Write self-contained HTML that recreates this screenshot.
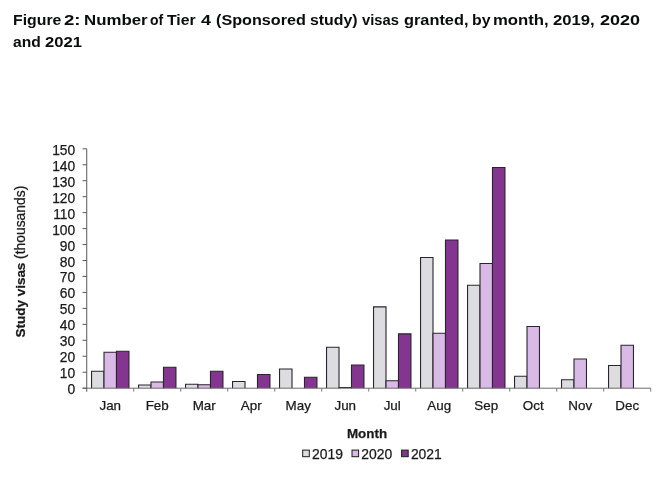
<!DOCTYPE html>
<html><head><meta charset="utf-8"><title>Figure 2</title>
<style>
html,body{margin:0;padding:0;background:#fff;}
body{width:656px;height:485px;position:relative;overflow:hidden;font-family:"Liberation Sans",sans-serif;}
.title{position:absolute;left:0;top:0;width:656px;height:60px;will-change:transform;}
.title span{position:absolute;font-weight:bold;font-size:15.4px;line-height:18px;color:#0b0c0c;white-space:nowrap;transform-origin:0 0;}
</style></head><body>
<div class="title"><span style="left:12.51px;top:11.0px;transform:scaleX(1.0283)">Figure</span> <span style="left:64.4px;top:11.0px;transform:scaleX(1.2082)">2:</span> <span style="left:83.65px;top:11.0px;transform:scaleX(1.0929)">Number</span> <span style="left:150.4px;top:11.0px;transform:scaleX(0.9090)">of</span> <span style="left:167.0px;top:11.0px;transform:scaleX(1.0271)">Tier</span> <span style="left:201.0px;top:11.0px;transform:scaleX(1.1659)">4</span> <span style="left:216.2px;top:11.0px;transform:scaleX(1.0506)">(Sponsored</span> <span style="left:310.0px;top:11.0px;transform:scaleX(1.0309)">study)</span> <span style="left:362.0px;top:11.0px;transform:scaleX(0.9577)">visas</span> <span style="left:403.6px;top:11.0px;transform:scaleX(1.0610)">granted,</span> <span style="left:471.61px;top:11.0px;transform:scaleX(1.0288)">by</span> <span style="left:492.86px;top:11.0px;transform:scaleX(1.0855)">month,</span> <span style="left:553.0px;top:11.0px;transform:scaleX(1.0837)">2019,</span> <span style="left:599.7px;top:11.0px;transform:scaleX(1.1701)">2020</span> <span style="left:13.0px;top:33.1px;transform:scaleX(1.0137)">and</span> <span style="left:45.0px;top:33.1px;transform:scaleX(1.0770)">2021</span> </div>
<svg width="656" height="485" viewBox="0 0 656 485" style="position:absolute;left:0;top:0;will-change:transform">
<g stroke="#29242d" stroke-width="1.1">
<path d="M91.54 388.20V371.25H104.01V388.20" fill="#dddde1"/>
<path d="M104.01 388.20V352.25H116.48V388.20" fill="#d9b9e5"/>
<path d="M116.48 388.20V351.25H128.95V388.20" fill="#83358f"/>
<path d="M138.54 388.20V385.00H151.01V388.20" fill="#dddde1"/>
<path d="M151.01 388.20V382.00H163.48V388.20" fill="#d9b9e5"/>
<path d="M163.48 388.20V367.25H175.95V388.20" fill="#83358f"/>
<path d="M185.54 388.20V384.25H198.01V388.20" fill="#dddde1"/>
<path d="M198.01 388.20V384.75H210.48V388.20" fill="#d9b9e5"/>
<path d="M210.48 388.20V371.25H222.95V388.20" fill="#83358f"/>
<path d="M232.54 388.20V381.50H245.01V388.20" fill="#dddde1"/>
<path d="M257.48 388.20V374.50H269.95V388.20" fill="#83358f"/>
<path d="M279.54 388.20V369.00H292.01V388.20" fill="#dddde1"/>
<path d="M304.48 388.20V377.25H316.95V388.20" fill="#83358f"/>
<path d="M326.54 388.20V347.25H339.01V388.20" fill="#dddde1"/>
<path d="M339.01 388.20V387.50H351.48V388.20" fill="#d9b9e5"/>
<path d="M351.48 388.20V365.00H363.95V388.20" fill="#83358f"/>
<path d="M373.54 388.20V306.90H386.01V388.20" fill="#dddde1"/>
<path d="M386.01 388.20V380.80H398.48V388.20" fill="#d9b9e5"/>
<path d="M398.48 388.20V333.90H410.95V388.20" fill="#83358f"/>
<path d="M420.54 388.20V257.50H433.01V388.20" fill="#dddde1"/>
<path d="M433.01 388.20V333.20H445.48V388.20" fill="#d9b9e5"/>
<path d="M445.48 388.20V240.00H457.95V388.20" fill="#83358f"/>
<path d="M467.54 388.20V285.20H480.01V388.20" fill="#dddde1"/>
<path d="M480.01 388.20V263.50H492.48V388.20" fill="#d9b9e5"/>
<path d="M492.48 388.20V167.50H504.95V388.20" fill="#83358f"/>
<path d="M514.54 388.20V376.25H527.01V388.20" fill="#dddde1"/>
<path d="M527.01 388.20V326.50H539.48V388.20" fill="#d9b9e5"/>
<path d="M561.54 388.20V379.70H574.01V388.20" fill="#dddde1"/>
<path d="M574.01 388.20V359.00H586.48V388.20" fill="#d9b9e5"/>
<path d="M608.54 388.20V365.50H621.01V388.20" fill="#dddde1"/>
<path d="M621.01 388.20V345.25H633.48V388.20" fill="#d9b9e5"/>
</g>
<g stroke="#5a5a5a" stroke-width="1" fill="none">
<line x1="86.74" y1="148.79999999999998" x2="86.74" y2="391.8"/>
<line x1="82.53999999999999" y1="388.2" x2="650.74" y2="388.2" stroke="#6c6c6c"/>
<line x1="82.53999999999999" y1="388.2" x2="86.74" y2="388.2"/>
<line x1="82.53999999999999" y1="372.24" x2="86.74" y2="372.24"/>
<line x1="82.53999999999999" y1="356.28" x2="86.74" y2="356.28"/>
<line x1="82.53999999999999" y1="340.32" x2="86.74" y2="340.32"/>
<line x1="82.53999999999999" y1="324.36" x2="86.74" y2="324.36"/>
<line x1="82.53999999999999" y1="308.4" x2="86.74" y2="308.4"/>
<line x1="82.53999999999999" y1="292.44" x2="86.74" y2="292.44"/>
<line x1="82.53999999999999" y1="276.48" x2="86.74" y2="276.48"/>
<line x1="82.53999999999999" y1="260.52" x2="86.74" y2="260.52"/>
<line x1="82.53999999999999" y1="244.55999999999997" x2="86.74" y2="244.55999999999997"/>
<line x1="82.53999999999999" y1="228.59999999999997" x2="86.74" y2="228.59999999999997"/>
<line x1="82.53999999999999" y1="212.64" x2="86.74" y2="212.64"/>
<line x1="82.53999999999999" y1="196.67999999999998" x2="86.74" y2="196.67999999999998"/>
<line x1="82.53999999999999" y1="180.71999999999997" x2="86.74" y2="180.71999999999997"/>
<line x1="82.53999999999999" y1="164.76" x2="86.74" y2="164.76"/>
<line x1="82.53999999999999" y1="148.79999999999998" x2="86.74" y2="148.79999999999998"/>
<line x1="133.74" y1="388.2" x2="133.74" y2="391.59999999999997" stroke="#777"/>
<line x1="180.74" y1="388.2" x2="180.74" y2="391.59999999999997" stroke="#777"/>
<line x1="227.74" y1="388.2" x2="227.74" y2="391.59999999999997" stroke="#777"/>
<line x1="274.74" y1="388.2" x2="274.74" y2="391.59999999999997" stroke="#777"/>
<line x1="321.74" y1="388.2" x2="321.74" y2="391.59999999999997" stroke="#777"/>
<line x1="368.74" y1="388.2" x2="368.74" y2="391.59999999999997" stroke="#777"/>
<line x1="415.74" y1="388.2" x2="415.74" y2="391.59999999999997" stroke="#777"/>
<line x1="462.74" y1="388.2" x2="462.74" y2="391.59999999999997" stroke="#777"/>
<line x1="509.74" y1="388.2" x2="509.74" y2="391.59999999999997" stroke="#777"/>
<line x1="556.74" y1="388.2" x2="556.74" y2="391.59999999999997" stroke="#777"/>
<line x1="603.74" y1="388.2" x2="603.74" y2="391.59999999999997" stroke="#777"/>
<line x1="650.74" y1="388.2" x2="650.74" y2="391.59999999999997" stroke="#777"/>
</g>
<g font-family="Liberation Sans, sans-serif" font-size="13.4" fill="#1a1a1a" stroke="#1a1a1a" stroke-width="0.25">
<text x="75.2" y="394.20" text-anchor="end" font-size="13.8">0</text>
<text x="75.2" y="378.24" text-anchor="end" font-size="13.8">10</text>
<text x="75.2" y="362.28" text-anchor="end" font-size="13.8">20</text>
<text x="75.2" y="346.32" text-anchor="end" font-size="13.8">30</text>
<text x="75.2" y="330.36" text-anchor="end" font-size="13.8">40</text>
<text x="75.2" y="314.40" text-anchor="end" font-size="13.8">50</text>
<text x="75.2" y="298.44" text-anchor="end" font-size="13.8">60</text>
<text x="75.2" y="282.48" text-anchor="end" font-size="13.8">70</text>
<text x="75.2" y="266.52" text-anchor="end" font-size="13.8">80</text>
<text x="75.2" y="250.56" text-anchor="end" font-size="13.8">90</text>
<text x="75.2" y="234.60" text-anchor="end" font-size="13.8">100</text>
<text x="75.2" y="218.64" text-anchor="end" font-size="13.8">110</text>
<text x="75.2" y="202.68" text-anchor="end" font-size="13.8">120</text>
<text x="75.2" y="186.72" text-anchor="end" font-size="13.8">130</text>
<text x="75.2" y="170.76" text-anchor="end" font-size="13.8">140</text>
<text x="75.2" y="154.80" text-anchor="end" font-size="13.8">150</text>
<text x="110.24" y="410.3" text-anchor="middle">Jan</text>
<text x="157.24" y="410.3" text-anchor="middle">Feb</text>
<text x="204.24" y="410.3" text-anchor="middle">Mar</text>
<text x="251.24" y="410.3" text-anchor="middle">Apr</text>
<text x="298.24" y="410.3" text-anchor="middle">May</text>
<text x="345.24" y="410.3" text-anchor="middle">Jun</text>
<text x="392.24" y="410.3" text-anchor="middle">Jul</text>
<text x="439.24" y="410.3" text-anchor="middle">Aug</text>
<text x="486.24" y="410.3" text-anchor="middle">Sep</text>
<text x="533.24" y="410.3" text-anchor="middle">Oct</text>
<text x="580.24" y="410.3" text-anchor="middle">Nov</text>
<text x="627.24" y="410.3" text-anchor="middle">Dec</text>
<text x="367" y="438" text-anchor="middle" font-weight="bold">Month</text>
<text transform="translate(24.8,337.5) rotate(-90)" font-size="13.48" font-weight="bold">Study visas</text>
<text transform="translate(24.8,258.9) rotate(-90)" font-size="13.87">(thousands)</text>
<rect x="302.7" y="450.1" width="6.6" height="6.6" fill="#dddde1" stroke="#1c1c1c" stroke-width="1"/>
<text x="312.0" y="459" font-size="13.9">2019</text>
<rect x="352.0" y="450.1" width="6.6" height="6.6" fill="#d9b9e5" stroke="#1c1c1c" stroke-width="1"/>
<text x="361.3" y="459" font-size="13.9">2020</text>
<rect x="401.6" y="450.1" width="6.6" height="6.6" fill="#83358f" stroke="#1c1c1c" stroke-width="1"/>
<text x="410.90000000000003" y="459" font-size="13.9">2021</text>
</g>
</svg>
</body></html>
